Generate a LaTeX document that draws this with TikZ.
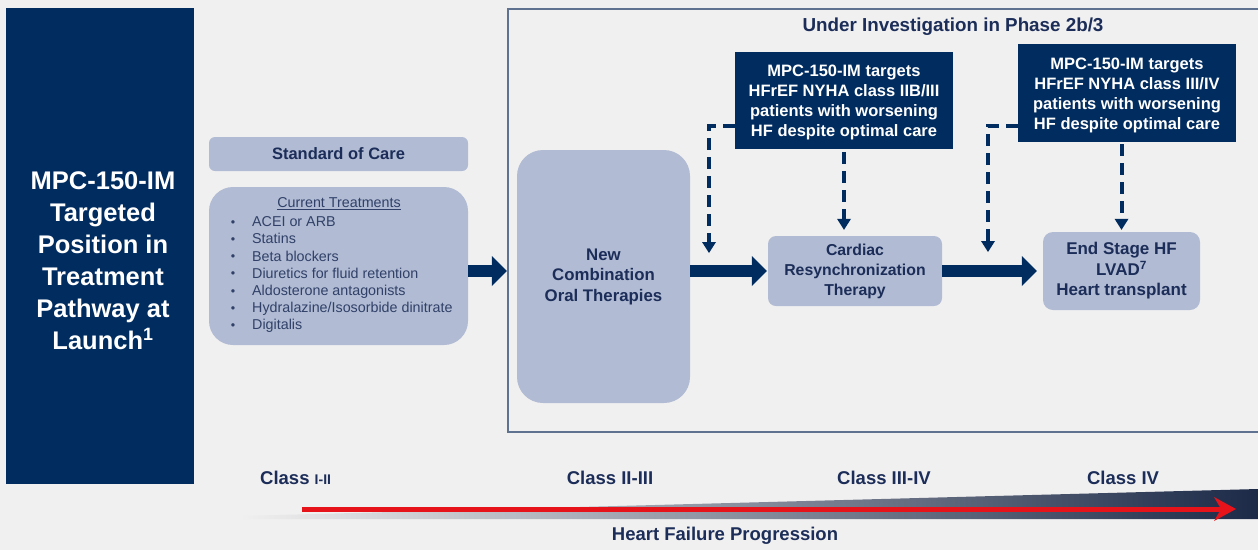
\documentclass[tikz,border=0pt]{standalone}
\usepackage{fontspec}
\setmainfont{Liberation Sans}
\usetikzlibrary{arrows.meta}

\definecolor{bg}{RGB}{241,240,240}
\definecolor{navy}{RGB}{0,44,96}
\definecolor{pale}{RGB}{177,187,211}
\definecolor{ink}{RGB}{27,45,88}
\definecolor{listink}{RGB}{48,64,104}
\definecolor{framec}{RGB}{95,115,145}
\definecolor{hfred}{RGB}{230,20,26}
\definecolor{wedgedark}{RGB}{28,42,72}

\begin{document}
\begin{tikzpicture}[x=1pt,y=-1pt,
  darkbox/.style={fill=navy, inner sep=0pt},
  palebox/.style={fill=pale, inner sep=0pt, text=ink, align=center},
  calltxt/.style={text=white, align=center, font=\fontsize{16.5}{20}\selectfont\bfseries},
  listtxt/.style={text=listink, inner sep=0pt, font=\fontsize{14.3}{17.2}\selectfont},
  classlbl/.style={text=ink, inner sep=0pt, font=\fontsize{18.5}{20}\selectfont\bfseries},
  blockarrow/.style={draw=navy, line width=12pt,
    -{Triangle[length=15pt,width=30pt,line width=0pt]}},
  dashlink/.style={draw=navy, line width=4pt, dash pattern=on 12pt off 7pt,
    -{Triangle[length=11pt,width=14pt,line width=0pt]}}]

% page and background
\useasboundingbox (0,0) rectangle (1258,550);
\fill[bg] (0,0) rectangle (1258,550);

% left title panel
\node[darkbox, minimum width=188pt, minimum height=476pt] (leftbox) at (100,246) {};
\node[text=white, align=center, font=\fontsize{25.5}{32}\selectfont\bfseries] (lefttxt) at (103,261)
  {MPC-150-IM\\Targeted\\Position in\\Treatment\\Pathway at\\Launch\textsuperscript{1}};

% standard of care column
\node[palebox, rounded corners=6pt, minimum width=259pt, minimum height=34pt,
  font=\fontsize{16.5}{20}\selectfont\bfseries] (soc) at (338.5,154) {Standard of Care};
\node[palebox, rounded corners=24pt, minimum width=259pt, minimum height=158pt] (treat) at (338.5,266) {};
\node[listtxt] (trhead) at (339,204) {\underline{Current Treatments}};
\foreach \t [count=\i] in {ACEI or ARB, Statins, Beta blockers, Diuretics for fluid retention,
    Aldosterone antagonists, Hydralazine/Isosorbide dinitrate, Digitalis} {
  \node[listtxt, anchor=base west] (tr\i) at (252,{226.7+17.2*(\i-1)}) {\t};
  \node[listtxt, anchor=base] (bl\i) at (233,{226.7+17.2*(\i-1)}) {\fontsize{12.5}{12.5}\selectfont\raisebox{0.5pt}{•}};
}

% investigation frame
\draw[framec, line width=1.5pt] (1258,9) -- (508,9) -- (508,432) -- (1258,432);
\node[text=ink, font=\fontsize{18.8}{20}\selectfont\bfseries] (title) at (953,27)
  {Under Investigation in Phase 2b/3};

% therapy stages
\node[palebox, rounded corners=26pt, minimum width=173pt, minimum height=253pt,
  font=\fontsize{16.8}{20.5}\selectfont\bfseries] (newc) at (603.5,276.5)
  {New\\Combination\\Oral Therapies};
\node[palebox, rounded corners=8pt, minimum width=174pt, minimum height=70pt,
  font=\fontsize{15.8}{20}\selectfont\bfseries] (crt) at (855,271)
  {Cardiac\\Resynchronization\\Therapy};
\node[palebox, rounded corners=10pt, minimum width=157pt, minimum height=78pt,
  font=\fontsize{17}{20.5}\selectfont\bfseries] (endb) at (1121.5,271)
  {End Stage HF\\LVAD\textsuperscript{7}\\Heart transplant};

% target callouts
\node[darkbox, minimum width=218pt, minimum height=97pt] (box1) at (844,100.5) {};
\node[calltxt] (box1txt) at (844,102)
  {MPC-150-IM targets\\HFrEF NYHA class IIB/III\\patients with worsening\\HF despite optimal care};
\node[darkbox, minimum width=218pt, minimum height=98pt] (box2) at (1127,93) {};
\node[calltxt] (box2txt) at (1127,95)
  {MPC-150-IM targets\\HFrEF NYHA class III/IV\\patients with worsening\\HF despite optimal care};

% pathway arrows
\draw[blockarrow, shorten >=10pt] ([yshift=-5pt]treat.east) -- ([yshift=-5pt]treat.east -| newc.west);
\draw[blockarrow, shorten >=1pt] (newc.east |- crt.west) -- (crt.west);
\draw[blockarrow, shorten >=6pt] (crt.east) -- (endb.west);

% dashed target links
\coordinate (e1) at (709,253);
\coordinate (e2) at (988,252);
\draw[dashlink, shorten <=3pt, shorten >=6pt] (box1.south) -- (box1.south |- crt.north);
\draw[dashlink] ([yshift=-25.5pt]box1.west) -| (e1);
\draw[dashlink, shorten <=2pt, shorten >=2pt] (box2.south -| endb.north) -- (endb.north);
\draw[dashlink] ([yshift=-33pt]box2.west) -| (e2);

% NYHA classes
\node[classlbl, anchor=west] (c1) at (260,478) {Class {\fontsize{14}{14}\selectfont I-II}};
\node[classlbl] (c2) at (610,478) {Class II-III};
\node[classlbl] (c3) at (884,478) {Class III-IV};
\node[classlbl] (c4) at (1123,478) {Class IV};

% progression wedge and arrow
\shade[left color=bg, right color=wedgedark] (240,516) -- (1258,489) -- (1258,519) -- (240,519) -- cycle;
\coordinate (hfs) at (302,509);
\coordinate (hfe) at (1236,509);
\draw[hfred, line width=5pt, -{Stealth[length=22pt,width=24pt,inset=7pt,line width=0pt]}] (hfs) -- (hfe);
\node[classlbl] (hfp) at (725,536) {Heart Failure Progression};
\end{tikzpicture}
\end{document}
